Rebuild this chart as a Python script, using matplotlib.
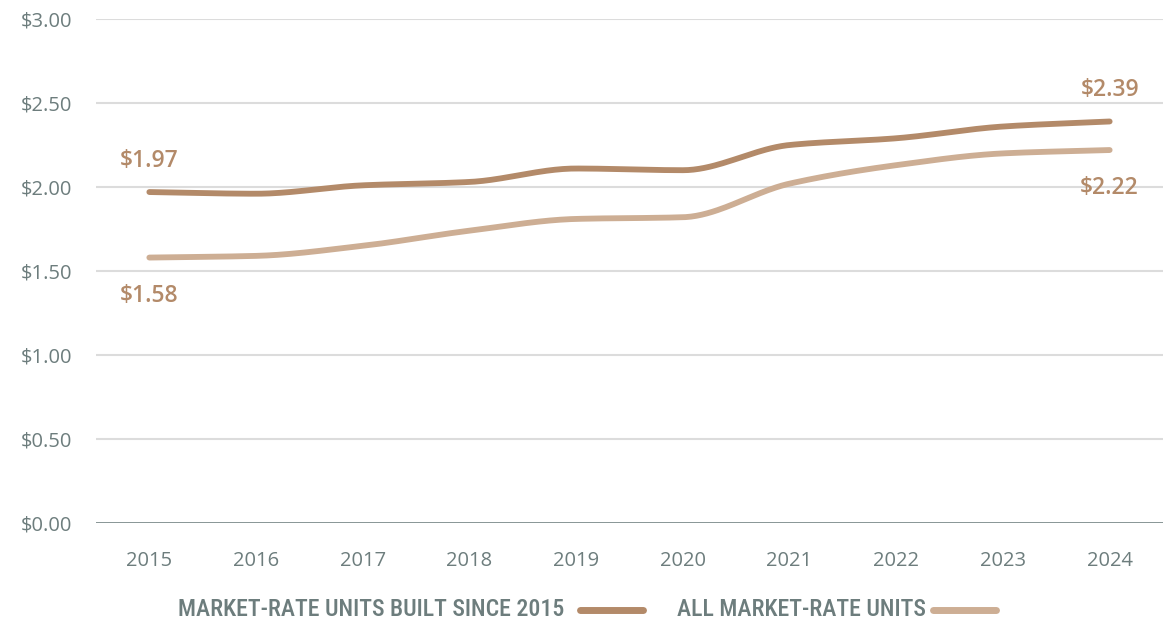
import numpy as np
import matplotlib
matplotlib.use("Agg")
import matplotlib.pyplot as plt
from matplotlib.lines import Line2D
from matplotlib import font_manager

years = ["2015", "2016", "2017", "2018", "2019", "2020", "2021", "2022", "2023", "2024"]
built_since_2015 = [1.97, 1.96, 2.01, 2.03, 2.11, 2.10, 2.25, 2.29, 2.36, 2.39]
all_market_rate = [1.58, 1.59, 1.65, 1.74, 1.81, 1.82, 2.02, 2.13, 2.20, 2.22]
y_ticks = [0.0, 0.5, 1.0, 1.5, 2.0, 2.5, 3.0]
legend_labels = ["MARKET-RATE UNITS BUILT SINCE 2015", "ALL MARKET-RATE UNITS"]

DARK = "#b38a69"
LIGHT = "#cdae94"
TICK = "#6d7d7d"
GRID = "#dcdcdc"

available = {f.name for f in font_manager.fontManager.ttflist}


def pick(*names):
    for n in names:
        if n in available:
            return n
    return "DejaVu Sans"


base_font = pick("Open Sans", "Lato", "DejaVu Sans")
narrow_font = pick("Roboto Condensed", "Barlow Condensed", "PT Sans Narrow", "Roboto")


def monotone_curve(x, y, n=40):
    """Monotone cubic (Fritsch-Carlson) interpolation for a smooth line."""
    x = np.asarray(x, float)
    y = np.asarray(y, float)
    h = np.diff(x)
    d = np.diff(y) / h
    m = np.zeros_like(y)
    m[0], m[-1] = d[0], d[-1]
    for i in range(1, len(y) - 1):
        if d[i - 1] * d[i] <= 0:
            m[i] = 0
        else:
            w1 = 2 * h[i] + h[i - 1]
            w2 = h[i] + 2 * h[i - 1]
            m[i] = (w1 + w2) / (w1 / d[i - 1] + w2 / d[i])
    xs, ys = [], []
    for i in range(len(x) - 1):
        t = np.linspace(0, 1, n, endpoint=(i == len(x) - 2))
        h00 = 2 * t**3 - 3 * t**2 + 1
        h10 = t**3 - 2 * t**2 + t
        h01 = -2 * t**3 + 3 * t**2
        h11 = t**3 - t**2
        xs.append(x[i] + t * h[i])
        ys.append(h00 * y[i] + h10 * h[i] * m[i] + h01 * y[i + 1] + h11 * h[i] * m[i + 1])
    return np.concatenate(xs), np.concatenate(ys)


fig = plt.figure(figsize=(11.76, 6.24), dpi=100)
ax = fig.add_axes([96 / 1176, 101 / 624, (1163 - 96) / 1176, (523 - 19) / 624])

xpos = np.arange(len(years))
for series, color in [(all_market_rate, LIGHT), (built_since_2015, DARK)]:
    cx, cy = monotone_curve(xpos, series)
    ax.plot(cx, cy, color=color, lw=4.2, solid_capstyle="round", zorder=3)

ax.set_xlim(-0.5, len(years) - 0.5)
ax.set_ylim(0, 3.0)
ax.set_yticks(y_ticks)
ax.set_yticklabels([f"${v:.2f}" for v in y_ticks])
ax.set_xticks(xpos)
ax.set_xticklabels(years)
ax.tick_params(axis="both", length=0, labelsize=14.5, labelcolor=TICK)
ax.tick_params(axis="y", pad=17)
ax.tick_params(axis="x", pad=20)
for lab in ax.get_xticklabels() + ax.get_yticklabels():
    lab.set_fontfamily(base_font)

for v in y_ticks[1:]:
    ax.axhline(v, color=GRID, lw=1.5, zorder=1)
ax.axhline(0, color="#7f8e8e", lw=1.3, zorder=2)
for s in ax.spines.values():
    s.set_visible(False)

label_kw = dict(color=DARK, fontsize=16.5, fontweight="semibold", ha="center",
                va="center", family=base_font, textcoords="offset points")
ax.annotate(f"${built_since_2015[0]:.2f}", (xpos[0], built_since_2015[0]),
            xytext=(0, 22.5), **label_kw)
ax.annotate(f"${all_market_rate[0]:.2f}", (xpos[0], all_market_rate[0]),
            xytext=(0, -27.5), **label_kw)
ax.annotate(f"${built_since_2015[-1]:.2f}", (xpos[-1], built_since_2015[-1]),
            xytext=(0, 22.5), **label_kw)
ax.annotate(f"${all_market_rate[-1]:.2f}", (xpos[-1], all_market_rate[-1]),
            xytext=(0, -27.5), **label_kw)

# Legend built from text and line handles below the axis
leg_y = 1 - 610 / 624
leg_kw = dict(color=TICK, fontsize=17.2, fontweight="medium", va="center",
              family=narrow_font)
fig.text(178 / 1176, leg_y, legend_labels[0], ha="left", **leg_kw)
fig.add_artist(Line2D([580 / 1176, 643 / 1176], [leg_y, leg_y], color=DARK,
                      lw=5, solid_capstyle="round"))
fig.text(677 / 1176, leg_y, legend_labels[1], ha="left", **leg_kw)
fig.add_artist(Line2D([933 / 1176, 996 / 1176], [leg_y, leg_y], color=LIGHT,
                      lw=5, solid_capstyle="round"))

fig.savefig("out.png", dpi=100, facecolor="white")
